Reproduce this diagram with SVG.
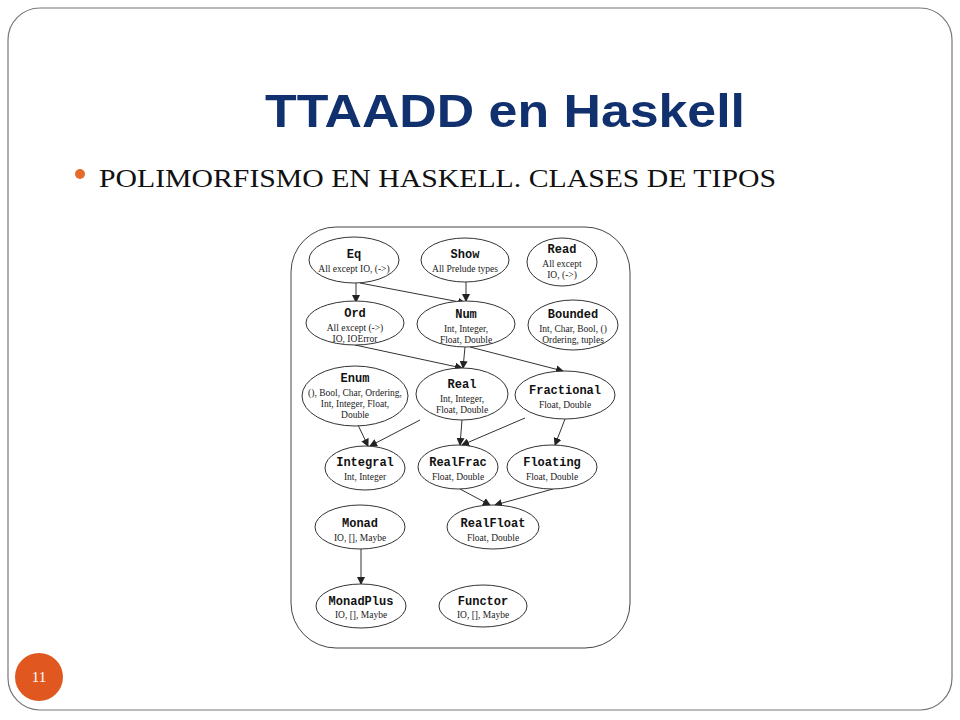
<svg xmlns="http://www.w3.org/2000/svg" width="960" height="720" viewBox="0 0 960 720">
<defs>
<marker id="a" markerWidth="8" markerHeight="8" refX="7" refY="4" orient="auto" markerUnits="userSpaceOnUse"><path d="M0,0 L8,4 L0,8 z" fill="#222"/></marker>
<style>
.n ellipse{fill:#fff;stroke:#333;stroke-width:1}
.t{font-family:"Liberation Mono",monospace;font-weight:bold;font-size:12px;text-anchor:middle;fill:#111}
.s{font-family:"Liberation Serif",serif;font-size:9.5px;text-anchor:middle;fill:#222}
#edges line{stroke:#333;stroke-width:1;marker-end:url(#a)}
</style>
</defs>
<rect width="960" height="720" fill="#fff"/>
<rect x="8" y="8" width="944" height="702" rx="32" fill="#fff" stroke="#777" stroke-width="1.2"/>
<text x="505" y="127" font-family="Liberation Sans,Arial,sans-serif" font-weight="bold" font-size="47" fill="#11306e" text-anchor="middle" textLength="480" lengthAdjust="spacingAndGlyphs">TTAADD en Haskell</text>
<circle cx="80" cy="174" r="5" fill="#e36c2c"/>
<text x="99" y="187" font-family="Liberation Serif,serif" font-size="25" fill="#111" textLength="677" lengthAdjust="spacingAndGlyphs">POLIMORFISMO EN HASKELL. CLASES DE TIPOS</text>
<rect x="291" y="227" width="339" height="421" rx="45" fill="#fff" stroke="#444" stroke-width="1"/>
<g id="edges">
<line x1="356" y1="283" x2="356" y2="302"/>
<line x1="360" y1="283" x2="465" y2="303"/>
<line x1="466" y1="282" x2="466" y2="301"/>
<line x1="355" y1="345" x2="462" y2="368"/>
<line x1="465" y1="347" x2="463" y2="368"/>
<line x1="470" y1="347" x2="563" y2="371"/>
<line x1="358" y1="425" x2="368" y2="446"/>
<line x1="420" y1="420" x2="370" y2="446"/>
<line x1="462" y1="420" x2="460" y2="445"/>
<line x1="525" y1="418" x2="462" y2="445"/>
<line x1="565" y1="419" x2="555" y2="445"/>
<line x1="460" y1="489" x2="490" y2="505"/>
<line x1="553" y1="489" x2="495" y2="505"/>
<line x1="361" y1="549" x2="361" y2="584"/>
</g>
<g id="Eq" class="n"><ellipse cx="354" cy="260" rx="45" ry="23"/><text class="t" x="354" y="258">Eq</text><text class="s" x="354" y="272">All except IO, (-&gt;)</text></g>
<g id="Show" class="n"><ellipse cx="465" cy="260" rx="44" ry="22"/><text class="t" x="465" y="258">Show</text><text class="s" x="465" y="272">All Prelude types</text></g>
<g id="Read" class="n"><ellipse cx="562" cy="262" rx="35" ry="24"/><text class="t" x="562" y="253">Read</text><text class="s" x="562" y="267">All except</text><text class="s" x="562" y="278">IO, (-&gt;)</text></g>
<g id="Ord" class="n"><ellipse cx="355" cy="323" rx="49" ry="22"/><text class="t" x="355" y="317">Ord</text><text class="s" x="355" y="331">All except (-&gt;)</text><text class="s" x="355" y="342">IO, IOError</text></g>
<g id="Num" class="n"><ellipse cx="466" cy="324" rx="49" ry="23"/><text class="t" x="466" y="318">Num</text><text class="s" x="466" y="332">Int, Integer,</text><text class="s" x="466" y="343">Float, Double</text></g>
<g id="Bounded" class="n"><ellipse cx="573" cy="325" rx="45" ry="25"/><text class="t" x="573" y="318">Bounded</text><text class="s" x="573" y="332">Int, Char, Bool, ()</text><text class="s" x="573" y="343">Ordering, tuples</text></g>
<g id="Enum" class="n"><ellipse cx="355" cy="396" rx="53" ry="30"/><text class="t" x="355" y="382">Enum</text><text class="s" x="355" y="396">(), Bool, Char, Ordering,</text><text class="s" x="355" y="407">Int, Integer, Float,</text><text class="s" x="355" y="418">Double</text></g>
<g id="Real" class="n"><ellipse cx="462" cy="394" rx="46" ry="26"/><text class="t" x="462" y="388">Real</text><text class="s" x="462" y="402">Int, Integer,</text><text class="s" x="462" y="413">Float, Double</text></g>
<g id="Fractional" class="n"><ellipse cx="565" cy="395" rx="50" ry="24"/><text class="t" x="565" y="394">Fractional</text><text class="s" x="565" y="408">Float, Double</text></g>
<g id="Integral" class="n"><ellipse cx="365" cy="468" rx="40" ry="22"/><text class="t" x="365" y="466">Integral</text><text class="s" x="365" y="480">Int, Integer</text></g>
<g id="RealFrac" class="n"><ellipse cx="458" cy="467" rx="40" ry="22"/><text class="t" x="458" y="466">RealFrac</text><text class="s" x="458" y="480">Float, Double</text></g>
<g id="Floating" class="n"><ellipse cx="552" cy="467" rx="45" ry="22"/><text class="t" x="552" y="466">Floating</text><text class="s" x="552" y="480">Float, Double</text></g>
<g id="Monad" class="n"><ellipse cx="360" cy="527" rx="45" ry="22"/><text class="t" x="360" y="527">Monad</text><text class="s" x="360" y="541">IO, [], Maybe</text></g>
<g id="RealFloat" class="n"><ellipse cx="493" cy="527" rx="46" ry="22"/><text class="t" x="493" y="527">RealFloat</text><text class="s" x="493" y="541">Float, Double</text></g>
<g id="MonadPlus" class="n"><ellipse cx="361" cy="606" rx="45" ry="22"/><text class="t" x="361" y="605">MonadPlus</text><text class="s" x="361" y="618">IO, [], Maybe</text></g>
<g id="Functor" class="n"><ellipse cx="483" cy="606" rx="44" ry="21"/><text class="t" x="483" y="605">Functor</text><text class="s" x="483" y="618">IO, [], Maybe</text></g>
<circle cx="39" cy="677" r="24" fill="#e0581f"/>
<text x="39" y="682" font-family="Liberation Serif,serif" font-size="15" fill="#fff" text-anchor="middle">11</text>
</svg>
